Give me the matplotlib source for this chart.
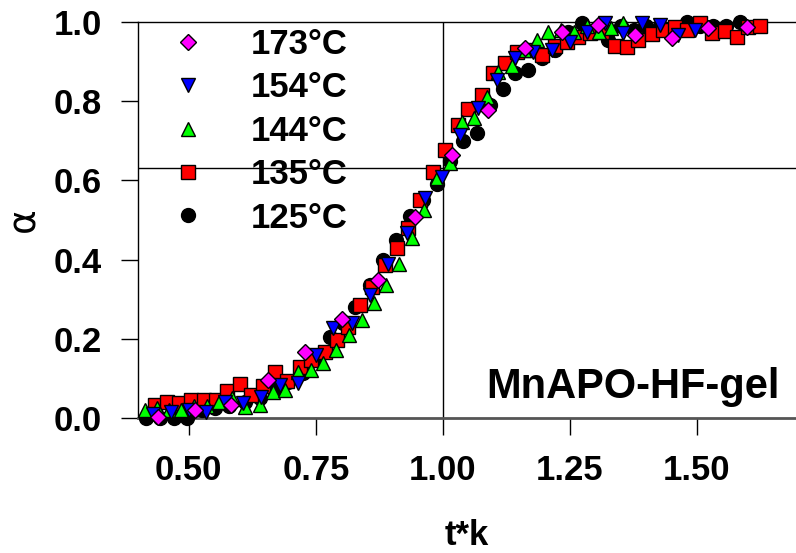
import matplotlib
matplotlib.use('Agg')
import matplotlib.pyplot as plt

plt.rcParams['font.family'] = ['Liberation Sans', 'DejaVu Sans']
plt.rcParams['font.weight'] = 'bold'
plt.rcParams['axes.unicode_minus'] = False

# --- data (t*k, alpha) ---
x_125 = [0.415, 0.443, 0.470, 0.497, 0.525, 0.552, 0.580, 0.610, 0.640, 0.667,
         0.695, 0.724, 0.750, 0.778, 0.803, 0.827, 0.856, 0.882, 0.908, 0.935,
         0.960, 0.988, 1.014, 1.040, 1.067, 1.093, 1.118, 1.142, 1.167, 1.195,
         1.220, 1.246, 1.274, 1.300, 1.325, 1.350, 1.376, 1.400, 1.427, 1.455,
         1.480, 1.506, 1.532, 1.558, 1.585]
y_125 = [0.0, 0.0, 0.0, 0.0, 0.02, 0.025, 0.03, 0.04, 0.05, 0.07,
         0.09, 0.114, 0.15, 0.205, 0.24, 0.28, 0.336, 0.40, 0.45, 0.51,
         0.55, 0.59, 0.65, 0.70, 0.72, 0.79, 0.83, 0.87, 0.88, 0.91,
         0.93, 0.975, 0.997, 0.98, 0.955, 0.99, 0.98, 0.99, 0.99, 0.98,
         1.0, 0.99, 0.99, 0.99, 1.0]

x_135 = [0.433, 0.457, 0.480, 0.504, 0.530, 0.553, 0.575, 0.600, 0.622, 0.646,
         0.669, 0.694, 0.718, 0.740, 0.768, 0.791, 0.813, 0.837, 0.860, 0.886,
         0.909, 0.931, 0.955, 0.980, 1.004, 1.030, 1.049, 1.077, 1.098, 1.122,
         1.146, 1.171, 1.195, 1.220, 1.244, 1.266, 1.290, 1.314, 1.339, 1.362,
         1.384, 1.411, 1.434, 1.457, 1.480, 1.506, 1.529, 1.555, 1.579, 1.600,
         1.624]
y_135 = [0.033, 0.040, 0.038, 0.045, 0.045, 0.045, 0.068, 0.086, 0.058, 0.081,
         0.116, 0.093, 0.129, 0.146, 0.167, 0.197, 0.23, 0.285, 0.33, 0.386,
         0.43, 0.48, 0.55, 0.62, 0.677, 0.74, 0.78, 0.815, 0.87, 0.896,
         0.924, 0.93, 0.917, 0.94, 0.95, 0.962, 0.972, 0.975, 0.94, 0.937,
         0.954, 0.97, 0.98, 0.987, 0.98, 0.997, 0.972, 0.977, 0.962, 0.987,
         0.99]

x_144 = [0.413, 0.437, 0.461, 0.485, 0.510, 0.535, 0.560, 0.585, 0.610, 0.640,
         0.665, 0.690, 0.714, 0.740, 0.764, 0.789, 0.815, 0.840, 0.864, 0.889,
         0.913, 0.939, 0.963, 0.988, 1.014, 1.037, 1.061, 1.086, 1.108, 1.136,
         1.160, 1.185, 1.207, 1.232, 1.258, 1.283, 1.307, 1.331, 1.355]
y_144 = [0.02, 0.025, 0.02, 0.02, 0.03, 0.03, 0.04, 0.05, 0.028, 0.033,
         0.066, 0.07, 0.116, 0.12, 0.138, 0.172, 0.21, 0.247, 0.29, 0.336,
         0.39, 0.455, 0.525, 0.606, 0.644, 0.747, 0.757, 0.81, 0.874, 0.89,
         0.93, 0.955, 0.975, 0.98, 0.975, 0.99, 0.975, 0.985, 0.997]

x_154 = [0.430, 0.465, 0.500, 0.533, 0.571, 0.606, 0.642, 0.679, 0.714, 0.750,
         0.783, 0.821, 0.856, 0.892, 0.929, 0.965, 0.998, 1.033, 1.069, 1.106,
         1.142, 1.177, 1.214, 1.250, 1.283, 1.319, 1.354, 1.392, 1.427, 1.462,
         1.496]
y_154 = [0.01, 0.015, 0.02, 0.015, 0.04, 0.038, 0.053, 0.083, 0.088, 0.159,
         0.227, 0.24, 0.31, 0.39, 0.467, 0.555, 0.609, 0.715, 0.783, 0.853,
         0.909, 0.924, 0.93, 0.95, 0.975, 0.997, 0.972, 0.997, 0.992, 0.967,
         0.98]

x_173 = [0.439, 0.512, 0.583, 0.656, 0.728, 0.801, 0.872, 0.945, 1.018, 1.089,
         1.161, 1.234, 1.305, 1.378, 1.451, 1.522, 1.598]
y_173 = [0.003, 0.02, 0.033, 0.096, 0.167, 0.25, 0.348, 0.508, 0.664, 0.778,
         0.934, 0.975, 0.992, 0.967, 0.96, 0.985, 0.987]

x_ticks = [0.50, 0.75, 1.00, 1.25, 1.50]
y_ticks = [0.0, 0.2, 0.4, 0.6, 0.8, 1.0]
alpha_ref = 0.632   # 1 - 1/e
tk_ref = 1.0

fig = plt.figure(figsize=(7.96, 5.53), dpi=100)
ax = fig.add_axes([138 / 796, 135 / 553, 658 / 796, 396 / 553])

series = [
    (x_125, y_125, 'o', 'black', 10, '125°C'),
    (x_135, y_135, 's', 'red', 9.5, '135°C'),
    (x_144, y_144, '^', '#00ff00', 10, '144°C'),
    (x_154, y_154, 'v', 'blue', 10, '154°C'),
    (x_173, y_173, 'D', '#ff00ff', 8.5, '173°C'),
]
handles = []
for xs, ys, mk, col, ms, lab in series:
    h, = ax.plot(xs, ys, linestyle='none', marker=mk, markersize=ms,
                 markerfacecolor=col, markeredgecolor='black',
                 markeredgewidth=1.0, label=lab, clip_on=False, zorder=3)
    handles.append(h)

ax.axhline(alpha_ref, color='black', lw=1.0, zorder=1)
ax.axvline(tk_ref, color='black', lw=1.0, zorder=1)

ax.set_xlim(0.4, 1.695)
ax.set_ylim(0.0, 1.0)
ax.set_xticks(x_ticks)
ax.set_xticklabels([f'{v:.2f}' for v in x_ticks])
ax.set_yticks(y_ticks)
ax.set_yticklabels([f'{v:.1f}' for v in y_ticks])
ax.tick_params(axis='both', direction='out', length=12, width=1.0,
               labelsize=25, pad=14)

ax.spines['right'].set_visible(False)
ax.spines['top'].set_linewidth(1.0)
ax.spines['left'].set_linewidth(1.0)
ax.spines['bottom'].set_linewidth(2.0)
ax.spines['bottom'].set_color('#555555')

ax.set_xlabel('t*k', fontsize=25, fontweight='bold', labelpad=23)
ax.set_ylabel('α', fontsize=27, fontweight='normal', labelpad=8,
              family=['DejaVu Sans'])

ax.legend(handles=handles[::-1], loc='upper left',
          bbox_to_anchor=(0.049, 0.985), frameon=False, fontsize=25,
          handlelength=1.0, handletextpad=1.33, labelspacing=0.3,
          borderpad=0, borderaxespad=0, numpoints=1)

ax.text(0.976, 0.0505, 'MnAPO-HF-gel', transform=ax.transAxes,
        ha='right', va='baseline', fontsize=30, fontweight='bold')

fig.savefig('out.png', dpi=100, facecolor='white')
